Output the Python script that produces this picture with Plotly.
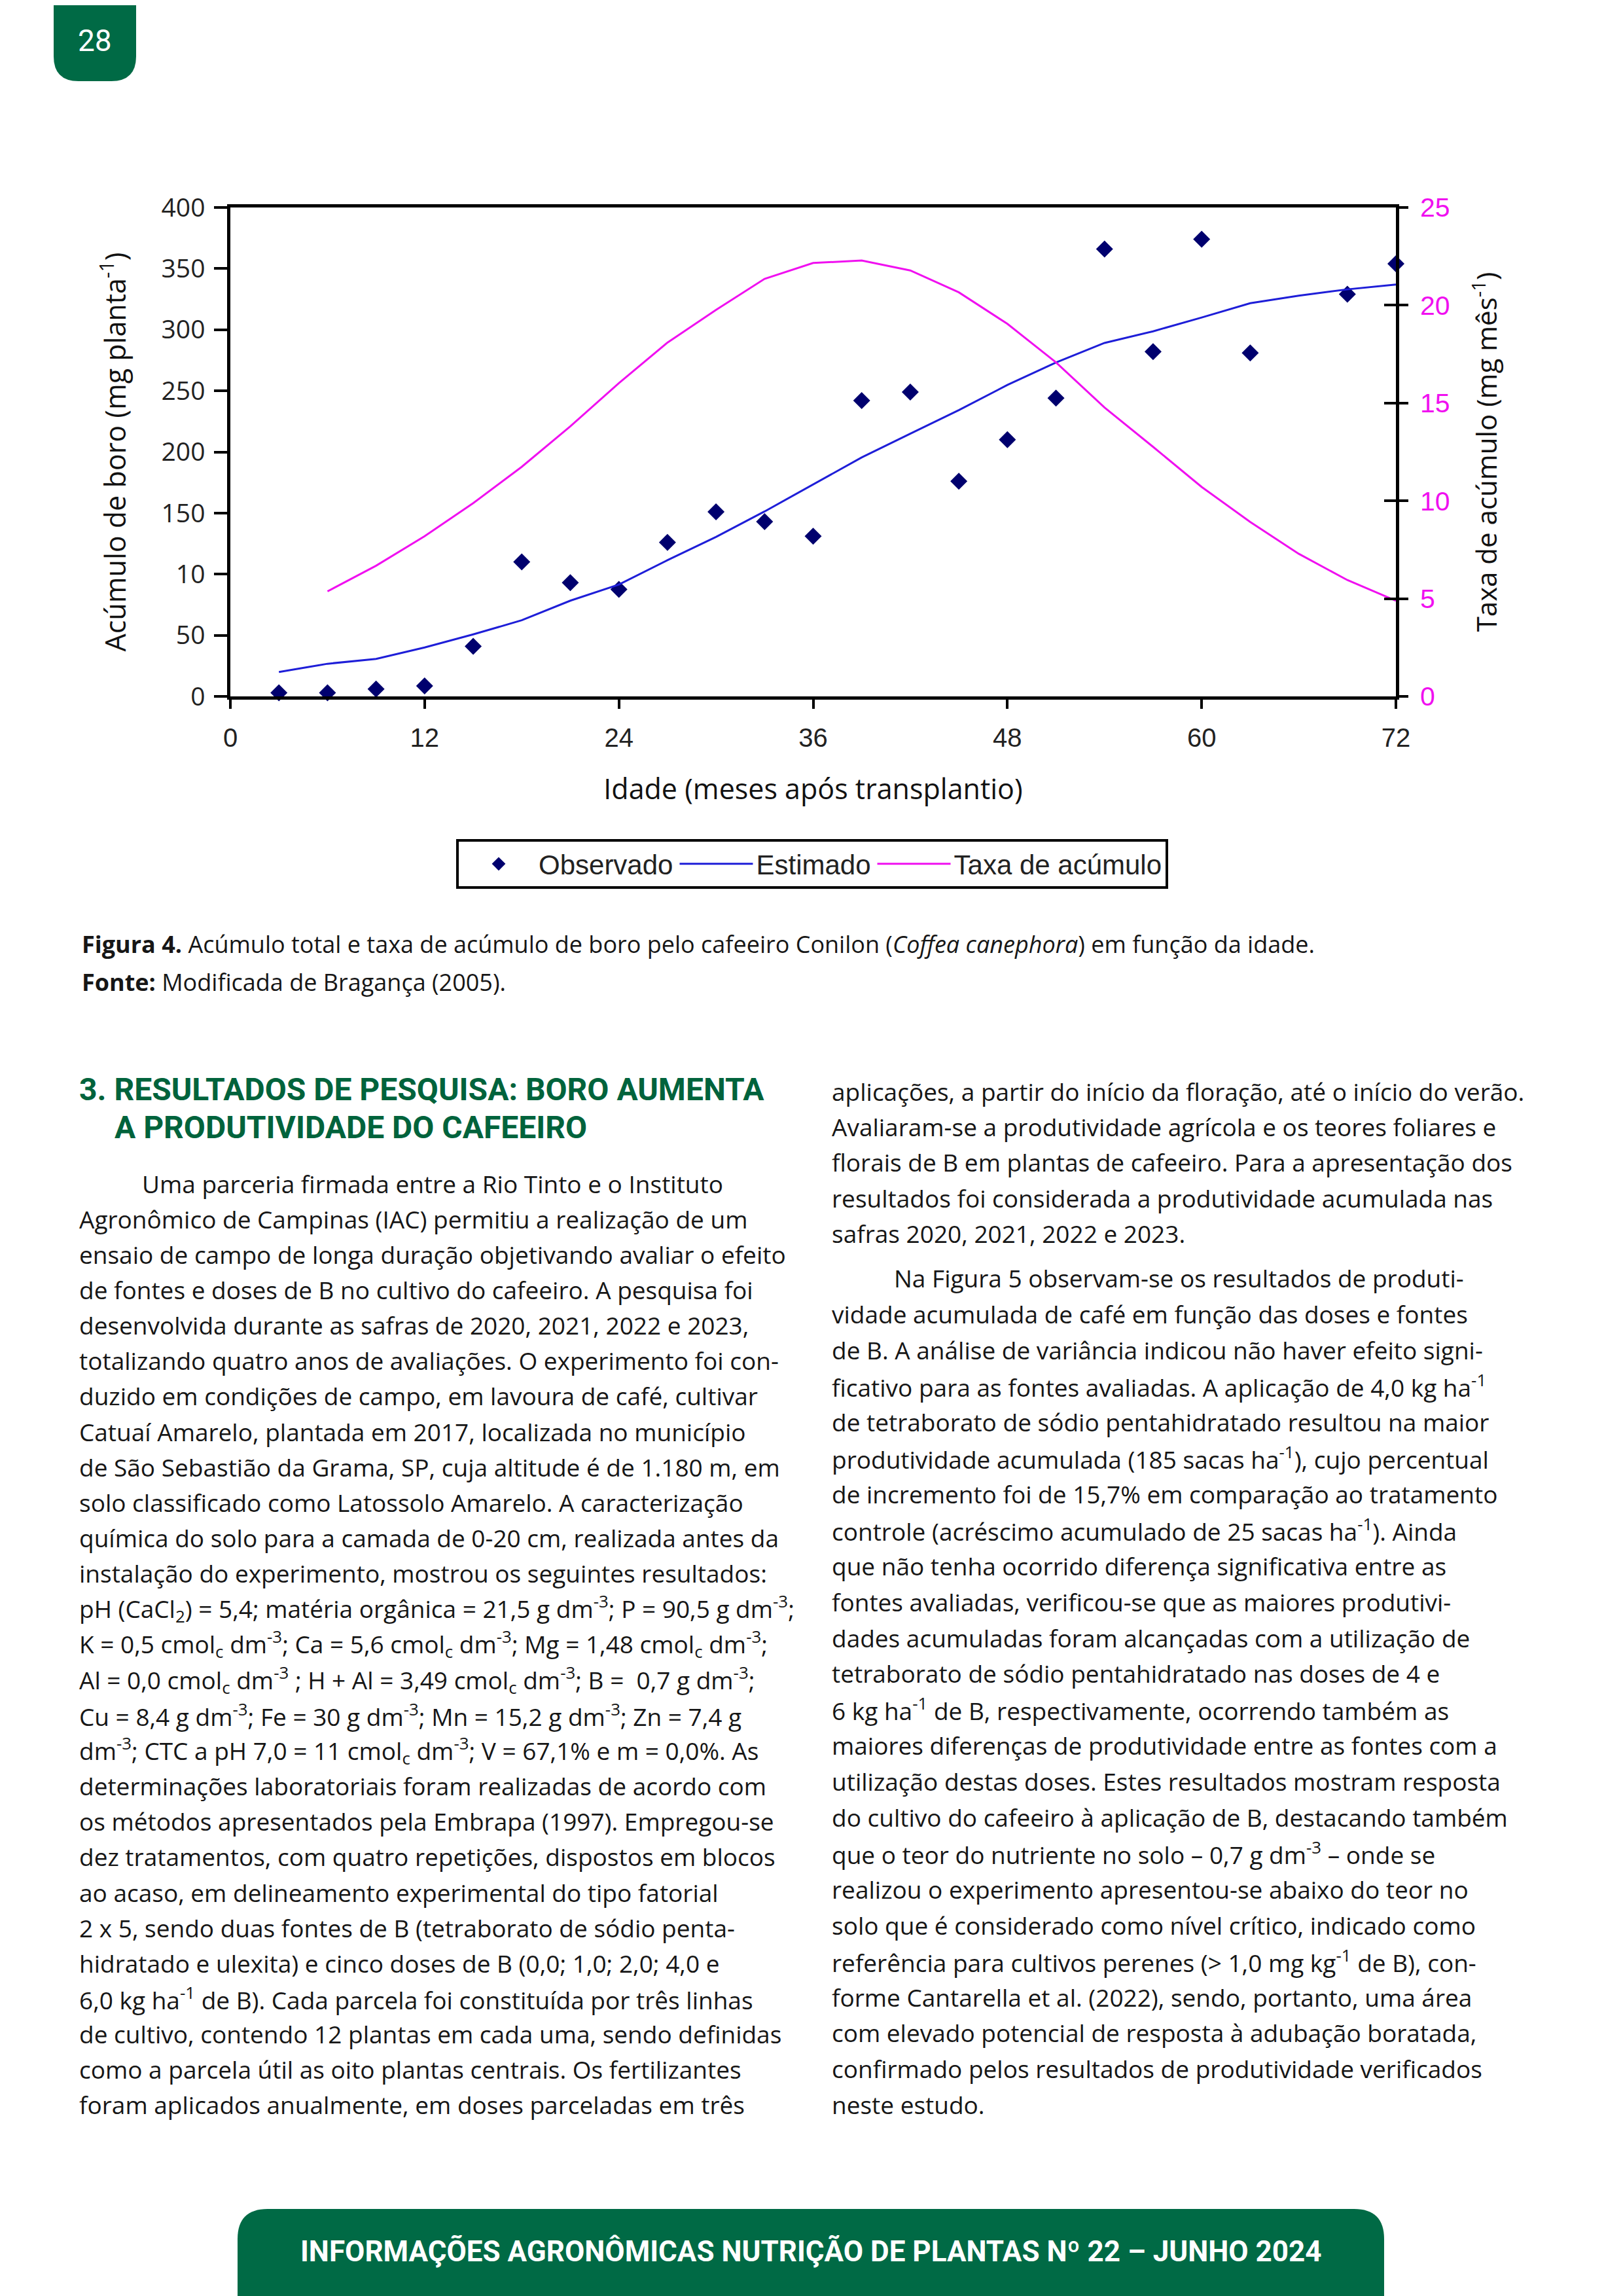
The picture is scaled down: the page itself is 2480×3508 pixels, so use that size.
import subprocess
import plotly.graph_objects as go

W, H = 2480, 3508
OFF = 8  # the page body margin shifts the figure by this many pixels

# ---------------- data ----------------
obs_x = [3, 6, 9, 12, 15, 18, 21, 24, 27, 30, 33, 36, 39, 42, 45, 48, 51, 54, 57, 60, 63, 69, 72]
obs_y = [3, 3, 6, 8.6, 41, 110, 93, 87.5, 126, 151, 143, 131, 242, 249, 176, 210, 244, 366, 282, 374, 281, 329, 354]

est_x = [3, 6, 9, 12, 15, 18, 21, 24, 27, 30, 33, 36, 39, 42, 45, 48, 51, 54, 57, 60, 63, 66, 69, 72]
est_y = [20, 26.7, 30.7, 40, 50.7, 62.3, 78.3, 91.5, 111.4, 130.5, 151.3, 173.4, 195.5, 214.9,
         234.2, 254.8, 273.2, 289.2, 298.7, 310, 321.7, 327.9, 333, 337]

rate_x = [6, 9, 12, 15, 18, 21, 24, 27, 30, 33, 36, 39, 42, 45, 48, 51, 54, 57, 60, 63, 66, 69, 72]
rate_y = [5.37, 6.68, 8.19, 9.88, 11.74, 13.81, 16.02, 18.09, 19.76, 21.35, 22.16, 22.29, 21.78,
          20.66, 19.05, 17.08, 14.77, 12.76, 10.71, 8.92, 7.29, 5.95, 4.89]

x_ticks = [0, 12, 24, 36, 48, 60, 72]
left_tickvals = [0, 50, 100, 150, 200, 250, 300, 350, 400]
left_ticktext = ["0", "50", "10", "150", "200", "250", "300", "350", "400"]
right_tickvals = [0, 5, 10, 15, 20, 25]

caption_lines = [
    "<b>Figura 4.</b> Acúmulo total e taxa de acúmulo de boro pelo cafeeiro Conilon (<i>Coffea canephora</i>) em função da idade.",
    "<b>Fonte:</b> Modificada de Bragança (2005).",
]
heading_lines = ["3. RESULTADOS DE PESQUISA: BORO AUMENTA", "A PRODUTIVIDADE DO CAFEEIRO"]

left_col = [
    "Uma parceria firmada entre a Rio Tinto e o Instituto",
    "Agronômico de Campinas (IAC) permitiu a realização de um",
    "ensaio de campo de longa duração objetivando avaliar o efeito",
    "de fontes e doses de B no cultivo do cafeeiro. A pesquisa foi",
    "desenvolvida durante as safras de 2020, 2021, 2022 e 2023,",
    "totalizando quatro anos de avaliações. O experimento foi con-",
    "duzido em condições de campo, em lavoura de café, cultivar",
    "Catuaí Amarelo, plantada em 2017, localizada no município",
    "de São Sebastião da Grama, SP, cuja altitude é de 1.180 m, em",
    "solo classificado como Latossolo Amarelo. A caracterização",
    "química do solo para a camada de 0-20 cm, realizada antes da",
    "instalação do experimento, mostrou os seguintes resultados:",
    "pH (CaCl<sub>2</sub>) = 5,4; matéria orgânica = 21,5 g dm<sup>-3</sup>; P = 90,5 g dm<sup>-3</sup>;",
    "K = 0,5 cmol<sub>c</sub> dm<sup>-3</sup>; Ca = 5,6 cmol<sub>c</sub> dm<sup>-3</sup>; Mg = 1,48 cmol<sub>c</sub> dm<sup>-3</sup>;",
    "Al = 0,0 cmol<sub>c</sub> dm<sup>-3</sup> ; H + Al = 3,49 cmol<sub>c</sub> dm<sup>-3</sup>; B =  0,7 g dm<sup>-3</sup>;",
    "Cu = 8,4 g dm<sup>-3</sup>; Fe = 30 g dm<sup>-3</sup>; Mn = 15,2 g dm<sup>-3</sup>; Zn = 7,4 g",
    "dm<sup>-3</sup>; CTC a pH 7,0 = 11 cmol<sub>c</sub> dm<sup>-3</sup>; V = 67,1% e m = 0,0%. As",
    "determinações laboratoriais foram realizadas de acordo com",
    "os métodos apresentados pela Embrapa (1997). Empregou-se",
    "dez tratamentos, com quatro repetições, dispostos em blocos",
    "ao acaso, em delineamento experimental do tipo fatorial",
    "2 x 5, sendo duas fontes de B (tetraborato de sódio penta-",
    "hidratado e ulexita) e cinco doses de B (0,0; 1,0; 2,0; 4,0 e",
    "6,0 kg ha<sup>-1</sup> de B). Cada parcela foi constituída por três linhas",
    "de cultivo, contendo 12 plantas em cada uma, sendo definidas",
    "como a parcela útil as oito plantas centrais. Os fertilizantes",
    "foram aplicados anualmente, em doses parceladas em três",
]
right_col_a = [
    "aplicações, a partir do início da floração, até o início do verão.",
    "Avaliaram-se a produtividade agrícola e os teores foliares e",
    "florais de B em plantas de cafeeiro. Para a apresentação dos",
    "resultados foi considerada a produtividade acumulada nas",
    "safras 2020, 2021, 2022 e 2023.",
]
right_col_b = [
    "Na Figura 5 observam-se os resultados de produti-",
    "vidade acumulada de café em função das doses e fontes",
    "de B. A análise de variância indicou não haver efeito signi-",
    "ficativo para as fontes avaliadas. A aplicação de 4,0 kg ha<sup>-1</sup>",
    "de tetraborato de sódio pentahidratado resultou na maior",
    "produtividade acumulada (185 sacas ha<sup>-1</sup>), cujo percentual",
    "de incremento foi de 15,7% em comparação ao tratamento",
    "controle (acréscimo acumulado de 25 sacas ha<sup>-1</sup>). Ainda",
    "que não tenha ocorrido diferença significativa entre as",
    "fontes avaliadas, verificou-se que as maiores produtivi-",
    "dades acumuladas foram alcançadas com a utilização de",
    "tetraborato de sódio pentahidratado nas doses de 4 e",
    "6 kg ha<sup>-1</sup> de B, respectivamente, ocorrendo também as",
    "maiores diferenças de produtividade entre as fontes com a",
    "utilização destas doses. Estes resultados mostram resposta",
    "do cultivo do cafeeiro à aplicação de B, destacando também",
    "que o teor do nutriente no solo – 0,7 g dm<sup>-3</sup> – onde se",
    "realizou o experimento apresentou-se abaixo do teor no",
    "solo que é considerado como nível crítico, indicado como",
    "referência para cultivos perenes (> 1,0 mg kg<sup>-1</sup> de B), con-",
    "forme Cantarella et al. (2022), sendo, portanto, uma área",
    "com elevado potencial de resposta à adubação boratada,",
    "confirmado pelos resultados de produtividade verificados",
    "neste estudo.",
]
page_number = "28"
footer_text = "INFORMAÇÕES AGRONÔMICAS NUTRIÇÃO DE PLANTAS Nº 22 – JUNHO 2024"

# ---------------- fonts ----------------
try:
    fl = subprocess.run(["fc-list"], capture_output=True, text=True).stdout
except Exception:
    fl = ""
HAS_NARROW = "Liberation Sans Narrow" in fl
COND = "Liberation Sans Narrow" if HAS_NARROW else "Roboto"
HEAD_SIZE = 56 if HAS_NARROW else 48
FOOT_SIZE = 52 if HAS_NARROW else 44

GREEN = "#006A45"
HEAD_GREEN = "#00633C"
TXT = "#161616"
BODY_FONT = "Open Sans, Noto Sans, sans-serif"
BODY_SIZE = 37


def px(x):
    return (x - OFF) / W


def py(y):
    return 1 - (y - OFF) / H


# ---------------- figure ----------------
fig = go.Figure()
fig.add_trace(go.Scatter(x=obs_x, y=obs_y, mode="markers", name="Observado",
                         marker=dict(symbol="diamond", size=20, color="#00006E"),
                         cliponaxis=False))
fig.add_trace(go.Scatter(x=est_x, y=est_y, mode="lines", name="Estimado",
                         line=dict(color="#1E1ED8", width=3), cliponaxis=False))
fig.add_trace(go.Scatter(x=rate_x, y=rate_y, mode="lines", name="Taxa de acúmulo", yaxis="y2",
                         line=dict(color="#F010F0", width=3), cliponaxis=False))
fig.add_trace(go.Scatter(x=[], y=[], yaxis="y3", showlegend=False, hoverinfo="skip"))

x0, x1 = px(352), px(2133)
y0, y1 = py(1064), py(317)

axis_common = dict(showgrid=False, zeroline=False, showline=True, linecolor="black",
                   linewidth=4.5, ticks="outside", tickcolor="black", tickwidth=4,
                   automargin=False)

fig.update_layout(
    template="none",
    width=W, height=H,
    margin=dict(l=0, r=0, t=0, b=0, pad=0, autoexpand=False),
    paper_bgcolor="white", plot_bgcolor="white",
    showlegend=True,
    xaxis=dict(domain=[x0, x1], range=[0, 72], tickvals=x_ticks, ticklen=14, mirror=True,
               ticklabelstandoff=10,
               tickfont=dict(family="Liberation Sans, Arial", size=40, color="#222"),
               title=dict(text="Idade (meses após transplantio)", standoff=45,
                          font=dict(family="Open Sans", size=43, color="#111")),
               **axis_common),
    yaxis=dict(domain=[y0, y1], range=[0, 400], tickvals=left_tickvals, ticktext=left_ticktext,
               ticklen=20, ticklabelstandoff=6,
               tickfont=dict(family="Open Sans", size=39, color="#222"),
               title=dict(text="Acúmulo de boro (mg planta<sup>-1</sup>)", standoff=42,
                          font=dict(family="Open Sans", size=43, color="#111")),
               **axis_common),
    yaxis2=dict(overlaying="y", side="right", anchor="x", range=[0, 25], tickvals=right_tickvals,
                ticklen=14, ticklabelstandoff=10,
                tickfont=dict(family="Liberation Sans, Arial", size=41, color="#F010F0"),
                title=dict(text="Taxa de acúmulo (mg mês<sup>-1</sup>)", standoff=45,
                           font=dict(family="Open Sans", size=42, color="#111")),
                **axis_common),
    yaxis3=dict(overlaying="y", side="right", anchor="x", range=[0, 25], tickvals=right_tickvals,
                ticks="inside", ticklen=18, tickwidth=4, tickcolor="black", automargin=False,
                showticklabels=False, showline=False, showgrid=False, zeroline=False),
    legend=dict(orientation="h", x=px(1241), xanchor="center", y=py(1282), yanchor="top",
                bgcolor="white", bordercolor="black", borderwidth=4,
                font=dict(family="Liberation Sans, Arial", size=42, color="#222"),
                itemwidth=112, tracegroupgap=0),
)

ann = []


def add_text(x, y, text, size, family, color=TXT, xanchor="left"):
    ann.append(dict(x=px(x), y=py(y), xref="paper", yref="paper", text=text, showarrow=False,
                    xanchor=xanchor, yanchor="middle", align="left",
                    font=dict(family=family, size=size, color=color)))


# page number badge text
add_text(145, 62, page_number, 46, "Roboto, Arial", color="white", xanchor="center")

# caption
add_text(123, 1443, caption_lines[0], 36, BODY_FONT)
add_text(123, 1500, caption_lines[1], 36, BODY_FONT)

# heading
add_text(119, 1664, "<b>" + heading_lines[0] + "</b>", HEAD_SIZE, COND, color=HEAD_GREEN)
add_text(173, 1722, "<b>" + heading_lines[1] + "</b>", HEAD_SIZE, COND, color=HEAD_GREEN)

# left column
for i, line in enumerate(left_col):
    add_text(215 if i == 0 else 119, 1808 + i * 54.15, line, BODY_SIZE, BODY_FONT)

# right column
for i, line in enumerate(right_col_a):
    add_text(1269, 1667 + i * 54.5, line, BODY_SIZE, BODY_FONT)
for i, line in enumerate(right_col_b):
    add_text(1364 if i == 0 else 1269, 1953 + i * 54.9, line, BODY_SIZE, BODY_FONT)

# footer text
add_text(1239, 3440, "<b>" + footer_text + "</b>", FOOT_SIZE, COND, color="white", xanchor="center")

fig.update_layout(annotations=ann)


def P(x, y):
    return f"{px(x):.6f},{py(y):.6f}"


r = 38
badge = (f"M{P(82, 0)} L{P(82, 124 - r)} Q{P(82, 124)} {P(82 + r, 124)} "
         f"L{P(208 - r, 124)} Q{P(208, 124)} {P(208, 124 - r)} L{P(208, 0)} Z")
rf = 46
footer = (f"M{P(363, 3516)} L{P(363, 3375 + rf)} Q{P(363, 3375)} {P(363 + rf, 3375)} "
          f"L{P(2115 - rf, 3375)} Q{P(2115, 3375)} {P(2115, 3375 + rf)} L{P(2115, 3516)} Z")
fig.update_layout(shapes=[
    dict(type="path", path=badge, xref="paper", yref="paper", fillcolor=GREEN, line=dict(width=0),
         layer="below"),
    dict(type="path", path=footer, xref="paper", yref="paper", fillcolor=GREEN, line=dict(width=0),
         layer="below"),
])

fig.write_html("out.html")
